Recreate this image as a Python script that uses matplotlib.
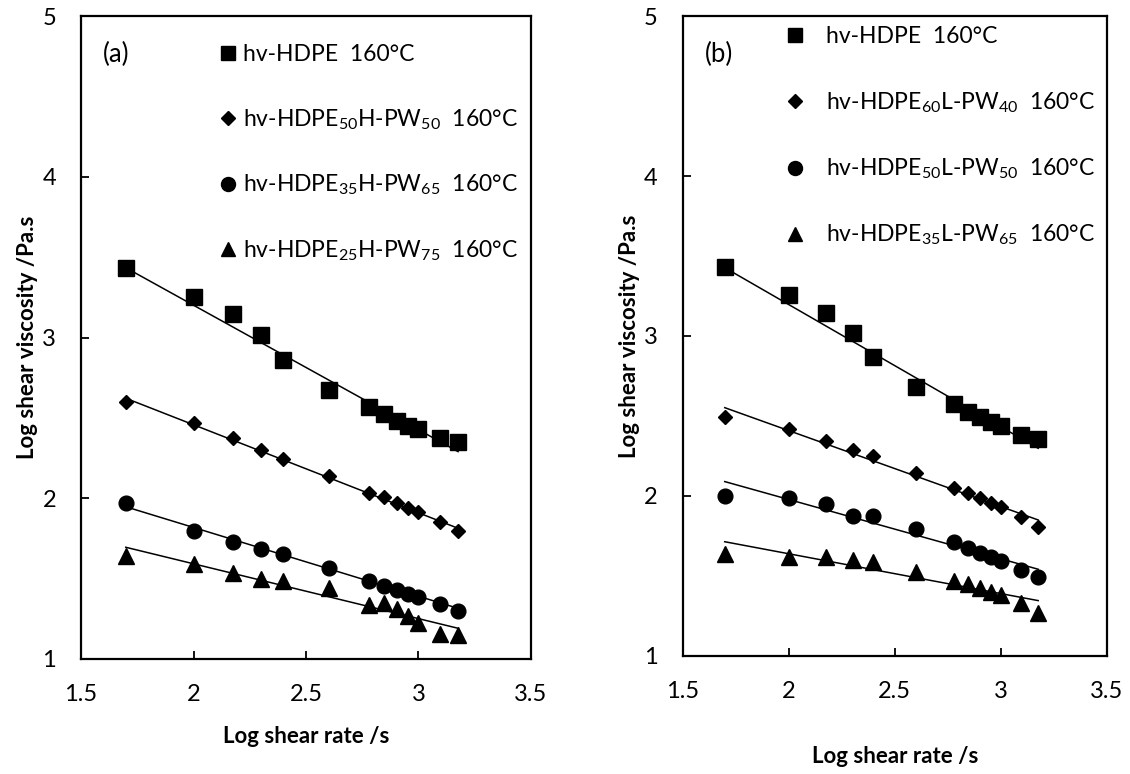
import matplotlib
matplotlib.use("Agg")
import matplotlib.pyplot as plt

plt.rcParams['font.family'] = ['Lato', 'Noto Sans', 'DejaVu Sans']
plt.rcParams['mathtext.fontset'] = 'custom'
plt.rcParams['mathtext.rm'] = 'Lato'

# log shear rate (same for every series)
log_rate = [1.699, 2.0, 2.176, 2.301, 2.398, 2.602, 2.778, 2.845, 2.903, 2.954, 3.0, 3.097, 3.176]

# panel (a)
a_hdpe = [3.43, 3.25, 3.145, 3.015, 2.86, 2.675, 2.57, 2.522, 2.482, 2.45, 2.43, 2.373, 2.35]
a_h50 = [2.60, 2.47, 2.373, 2.30, 2.245, 2.138, 2.035, 2.006, 1.972, 1.941, 1.913, 1.854, 1.798]
a_h35 = [1.972, 1.798, 1.729, 1.682, 1.651, 1.564, 1.487, 1.454, 1.429, 1.404, 1.384, 1.34, 1.30]
a_h25 = [1.64, 1.59, 1.533, 1.495, 1.485, 1.44, 1.335, 1.35, 1.31, 1.265, 1.225, 1.157, 1.148]

# panel (b)
b_hdpe = [3.433, 3.256, 3.146, 3.021, 2.871, 2.679, 2.575, 2.527, 2.492, 2.464, 2.439, 2.381, 2.354]
b_l60 = [2.492, 2.419, 2.344, 2.288, 2.25, 2.146, 2.052, 2.017, 1.986, 1.958, 1.929, 1.871, 1.808]
b_l50 = [2.002, 1.986, 1.95, 1.877, 1.877, 1.792, 1.71, 1.673, 1.646, 1.621, 1.594, 1.538, 1.492]
b_l35 = [1.638, 1.621, 1.617, 1.60, 1.589, 1.527, 1.471, 1.45, 1.423, 1.402, 1.381, 1.333, 1.267]

# trend lines (start / end values at first and last shear rate)
fit_x = [1.699, 3.176]
a_fits = [[3.434, 2.29], [2.622, 1.813], [1.947, 1.315], [1.695, 1.191]]
b_fits = [[3.427, 2.298], [2.552, 1.85], [2.09, 1.542], [1.714, 1.346]]


def sub(s):
    return r'$\mathregular{_{%s}}$' % s


a_labels = ['hv-HDPE  160°C',
            'hv-HDPE' + sub('50') + 'H-PW' + sub('50') + '  160°C',
            'hv-HDPE' + sub('35') + 'H-PW' + sub('65') + '  160°C',
            'hv-HDPE' + sub('25') + 'H-PW' + sub('75') + '  160°C']
b_labels = ['hv-HDPE  160°C',
            'hv-HDPE' + sub('60') + 'L-PW' + sub('40') + '  160°C',
            'hv-HDPE' + sub('50') + 'L-PW' + sub('50') + '  160°C',
            'hv-HDPE' + sub('35') + 'L-PW' + sub('65') + '  160°C']

markers = [('s', 11.2), ('D', 7.2), ('o', 10.6), ('^', 11)]


def draw_panel(ax, series, fits, labels, tag, tag_pos, mark_x, text_x, leg_top, leg_step):
    for i, (ys, fit, (m, ms), lab) in enumerate(zip(series, fits, markers, labels)):
        ax.plot(log_rate, ys, linestyle='none', marker=m, markersize=ms, color='black')
        ax.plot(fit_x, fit, color='black', linewidth=1.1)
        # legend entry
        yl = leg_top - i * leg_step
        ax.plot([mark_x], [yl], marker=m, markersize=ms * 0.95, color='black',
                linestyle='none', transform=ax.transAxes, clip_on=False)
        ax.text(text_x, yl - 0.0125, lab, transform=ax.transAxes, fontsize=16.5,
                ha='left', va='baseline')
    ax.text(tag_pos[0], tag_pos[1] - 0.014, tag, transform=ax.transAxes,
            fontsize=18.5, ha='left', va='baseline')
    ax.set_xlim(1.5, 3.5)
    ax.set_ylim(1, 5)
    ax.set_xticks([1.5, 2, 2.5, 3, 3.5])
    ax.set_xticklabels(['1.5', '2', '2.5', '3', '3.5'])
    ax.set_yticks([1, 2, 3, 4, 5])
    ax.tick_params(direction='in', length=6, width=1.3, labelsize=17, pad=18,
                   top=False, right=False)
    for sp in ax.spines.values():
        sp.set_linewidth(1.6)
    ax.set_xlabel('Log shear rate /s', fontsize=16, fontweight='bold')
    ax.set_ylabel('Log shear viscosity /Pa.s', fontsize=16, fontweight='bold')


fig = plt.figure(figsize=(11.3, 7.74), dpi=100)
ax_a = fig.add_axes([0.0717, 0.1486, 0.3982, 0.8307])
ax_b = fig.add_axes([0.604, 0.1525, 0.3756, 0.8268])

draw_panel(ax_a, [a_hdpe, a_h50, a_h35, a_h25], a_fits, a_labels, '(a)', (0.049, 0.9425),
           0.327, 0.36, 0.9425, 0.1017)
draw_panel(ax_b, [b_hdpe, b_l60, b_l50, b_l35], b_fits, b_labels, '(b)', (0.053, 0.942),
           0.265, 0.337, 0.970, 0.1034)

ax_a.xaxis.set_label_coords(0.5, -0.105)
ax_a.yaxis.set_label_coords(-0.095, 0.5)
ax_b.xaxis.set_label_coords(0.5, -0.14)
ax_b.yaxis.set_label_coords(-0.1, 0.5)

fig.savefig('out.png', dpi=100)
